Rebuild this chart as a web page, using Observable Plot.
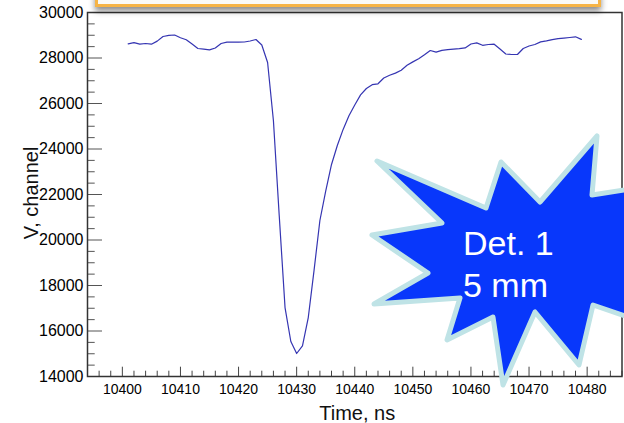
<!DOCTYPE html>
<html><head><meta charset="utf-8">
<script src="https://cdn.jsdelivr.net/npm/d3@7"></script>
<script src="https://cdn.jsdelivr.net/npm/@observablehq/plot@0.6"></script>
<style>
html,body{margin:0;padding:0;background:#fff;overflow:hidden;}
#wrap{position:relative;width:624px;height:423px;overflow:hidden;}
#wrap svg{position:absolute;left:0;top:0;}
#banner{position:absolute;left:95px;top:-40px;width:500px;height:41px;border:3px solid #f6b446;background:#fafaf7;box-shadow:0 4px 6px rgba(0,0,0,0.45);}
</style></head><body><div id="wrap"></div>
<script>
// Time (ns) and signal (channel) samples
const times = [10401,10402,10403,10404,10405,10406,10407,10408,10409,10410,
  10411,10412,10413,10414,10415,10416,10417,10418,10419,10420,
  10421,10422,10423,10424,10425,10426,10427,10428,10429,10430,
  10431,10432,10433,10434,10435,10436,10437,10438,10439,10440,
  10441,10442,10443,10444,10445,10446,10447,10448,10449,10450,
  10451,10452,10453,10454,10455,10456,10457,10458,10459,10460,
  10461,10462,10463,10464,10465,10466,10467,10468,10469,10470,
  10471,10472,10473,10474,10475,10476,10477,10478,10479];
const values = [28624,28677,28607,28637,28607,28743,28945,28998,29011,28892,
  28804,28615,28418,28391,28360,28440,28637,28699,28699,28699,
  28703,28747,28813,28571,27802,25253,21077,17030,15538,15011,
  15341,16593,18677,20857,22145,23319,24154,24861,25464,25934,
  26378,26659,26826,26866,27121,27240,27336,27464,27679,27829,
  27970,28141,28330,28256,28338,28365,28391,28413,28444,28615,
  28663,28558,28593,28607,28396,28176,28154,28154,28418,28527,
  28593,28708,28752,28809,28848,28875,28901,28932,28818];
const xTickLabels = [10400,10410,10420,10430,10440,10450,10460,10470,10480];
const yTickLabels = [14000,16000,18000,20000,22000,24000,26000,28000,30000];
const xTitle = "Time, ns";
const yTitle = "V, channel";
const badgeLines = ["Det. 1", "5 mm"];

const W = 624, H = 423;
const mL = 87, mR = 2.5, mT = 12, mB = 47;
const xDom = [10394, 10486], yDom = [14000, 30000];
const font = "'Liberation Sans', Arial, Helvetica, sans-serif";

const data = times.map((t, i) => ({t, v: values[i]}));
const xMinor = d3.range(10394, 10487, 2).filter(d => d % 10 !== 0);
const yMinor = d3.range(14000, 30001, 500).filter(d => d % 2000 !== 0);

const pxPerX = (W - mL - mR) / (xDom[1] - xDom[0]);
const pxPerY = (H - mT - mB) / (yDom[1] - yDom[0]);
const yLen = px => yDom[0] + px / pxPerY;
const xLen = px => xDom[0] + px / pxPerX;

// decorative badge (pixel geometry of the callout star)
const starPts = [[377,161],[486,208],[501,162],[540,202],[597,136],[592,195],[680,181],[650,255],[680,335],[593,305],[579,365],[535,312],[503,385],[493,317],[447,340],[460,298],[374,304],[428,273],[372,235],[442,223]];

function badge() {
  const g = d3.create("svg:g");
  g.append("polygon")
    .attr("points", starPts.map(p => p.join(",")).join(" "))
    .attr("fill", "#0837fb").attr("stroke", "#bfe3e6")
    .attr("stroke-width", 5).attr("stroke-linejoin", "round");
  badgeLines.forEach((s, i) => {
    g.append("text").attr("x", 463).attr("y", 255 + i * 42)
      .attr("text-anchor", "start")
      .attr("fill", "#fff").attr("font-size", 34)
      .attr("font-family", font).text(s);
  });
  return g.node();
}

const chart = Plot.plot({
  width: W, height: H,
  marginLeft: mL, marginRight: mR, marginTop: mT, marginBottom: mB,
  style: {fontFamily: font, background: "transparent", color: "#000"},
  x: {domain: xDom, label: null},
  y: {domain: yDom, label: null},
  marks: [
    Plot.ruleX(xTickLabels, {x: d => d, y1: yDom[0], y2: yLen(9.3), stroke: "#444", strokeWidth: 1}),
    Plot.ruleX(xMinor, {x: d => d, y1: yDom[0], y2: yLen(5.3), stroke: "#444", strokeWidth: 1}),
    Plot.ruleY(yTickLabels, {y: d => d, x1: xDom[0], x2: xLen(15), stroke: "#555", strokeWidth: 1}),
    Plot.ruleY(yMinor, {y: d => d, x1: xDom[0], x2: xLen(7.7), stroke: "#555", strokeWidth: 1}),
    Plot.axisX({ticks: xTickLabels, tickSize: 0, tickPadding: 7.4, fontSize: 14, tickFormat: d => String(d)}),
    Plot.axisY({ticks: yTickLabels, tickSize: 0, tickPadding: 4, fontSize: 16, tickFormat: d => String(d)}),
    Plot.line(data, {x: "t", y: "v", stroke: "#3535b2", strokeWidth: 1.2}),
    Plot.frame({stroke: "#333", strokeWidth: 1.5}),
    Plot.text([xTitle], {frameAnchor: "bottom", dx: 2.5, dy: 43, lineAnchor: "bottom", textAnchor: "middle", fontSize: 20, fill: "#111"}),
    Plot.text([yTitle], {frameAnchor: "left", dx: 37 - mL, dy: -1.5, rotate: -90, lineAnchor: "bottom", textAnchor: "middle", fontSize: 20, fill: "#111"}),
    badge
  ]
});
const wrap = document.getElementById("wrap");
wrap.appendChild(chart);
const banner = document.createElement("div");
banner.id = "banner";
wrap.appendChild(banner);
</script>
</body></html>
